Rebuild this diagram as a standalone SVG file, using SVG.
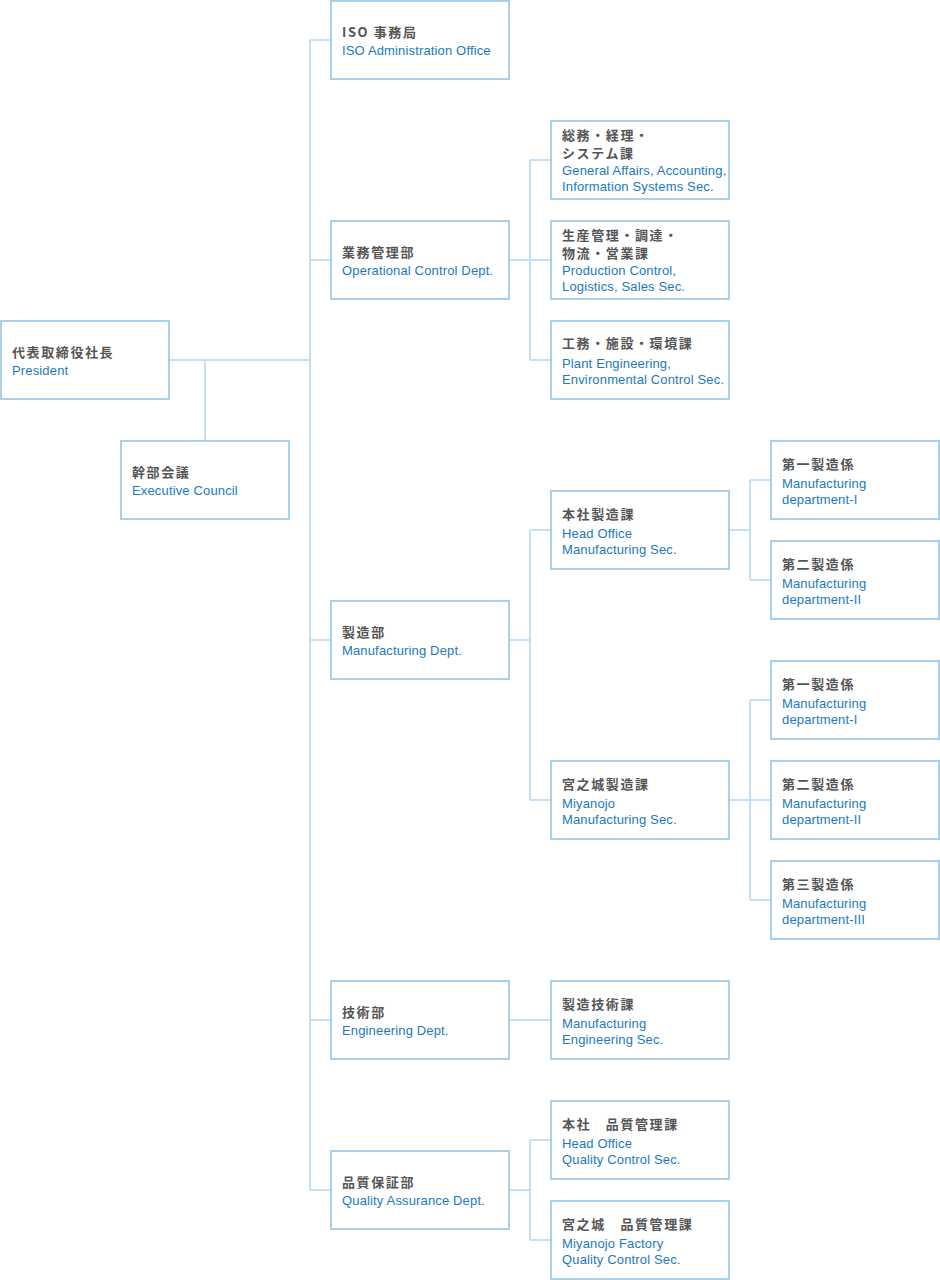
<svg xmlns="http://www.w3.org/2000/svg" width="940" height="1280" viewBox="0 0 940 1280">
<style>
.b{fill:#fff;stroke:#a9d1ee;stroke-width:2}
.j{font-family:"Noto Sans CJK JP","Liberation Sans",sans-serif;font-size:13px;font-weight:bold;fill:#555;letter-spacing:1.6px}
.e{font-family:"Liberation Sans","Noto Sans",sans-serif;font-size:13px;fill:#2279c0;letter-spacing:0.15px}
.c{fill:none;stroke:#c5e0f5;stroke-width:2}
</style>
<rect width="940" height="1280" fill="#fff"/>
<g id="connectors" class="c">
<path d="M310 40V1190"/>
<path d="M310 40H330M310 260H330M310 640H330M310 1020H330M310 1190H330"/>
<path d="M170 360H310M205 360V440"/>
<path d="M510 260H530M530 160V360M530 160H550M530 260H550M530 360H550"/>
<path d="M510 640H530M530 530V800M530 530H550M530 800H550"/>
<path d="M730 530H750M750 480V580M750 480H770M750 580H770"/>
<path d="M730 800H750M750 700V900M750 700H770M750 800H770M750 900H770"/>
<path d="M510 1020H550"/>
<path d="M510 1190H530M530 1140V1240M530 1140H550M530 1240H550"/>
</g>
<g id="president"><rect class="b" x="1" y="321" width="168" height="78"/><text class="j" x="12" y="357">代表取締役社長</text><text class="e" x="12" y="375">President</text></g>
<g id="council"><rect class="b" x="121" y="441" width="168" height="78"/><text class="j" x="132" y="477">幹部会議</text><text class="e" x="132" y="495">Executive Council</text></g>
<g id="iso"><rect class="b" x="331" y="1" width="178" height="78"/><text class="j" x="342" y="37">ISO 事務局</text><text class="e" x="342" y="55">ISO Administration Office</text></g>
<g id="opctrl"><rect class="b" x="331" y="221" width="178" height="78"/><text class="j" x="342" y="257">業務管理部</text><text class="e" x="342" y="275">Operational Control Dept.</text></g>
<g id="ga"><rect class="b" x="551" y="121" width="178" height="78"/><text class="j" x="562" y="140">総務・経理・</text><text class="j" x="562" y="158">システム課</text><text class="e" x="562" y="175">General Affairs, Accounting,</text><text class="e" x="562" y="191">Information Systems Sec.</text></g>
<g id="pc"><rect class="b" x="551" y="221" width="178" height="78"/><text class="j" x="562" y="240">生産管理・調達・</text><text class="j" x="562" y="258">物流・営業課</text><text class="e" x="562" y="275">Production Control,</text><text class="e" x="562" y="291">Logistics, Sales Sec.</text></g>
<g id="pe"><rect class="b" x="551" y="321" width="178" height="78"/><text class="j" x="562" y="348">工務・施設・環境課</text><text class="e" x="562" y="368">Plant Engineering,</text><text class="e" x="562" y="384">Environmental Control Sec.</text></g>
<g id="mfg"><rect class="b" x="331" y="601" width="178" height="78"/><text class="j" x="342" y="637">製造部</text><text class="e" x="342" y="655">Manufacturing Dept.</text></g>
<g id="homfg"><rect class="b" x="551" y="491" width="178" height="78"/><text class="j" x="562" y="519">本社製造課</text><text class="e" x="562" y="538">Head Office</text><text class="e" x="562" y="554">Manufacturing Sec.</text></g>
<g id="ho1"><rect class="b" x="771" y="441" width="168" height="78"/><text class="j" x="782" y="469">第一製造係</text><text class="e" x="782" y="488">Manufacturing</text><text class="e" x="782" y="504">department-I</text></g>
<g id="ho2"><rect class="b" x="771" y="541" width="168" height="78"/><text class="j" x="782" y="569">第二製造係</text><text class="e" x="782" y="588">Manufacturing</text><text class="e" x="782" y="604">department-II</text></g>
<g id="mymfg"><rect class="b" x="551" y="761" width="178" height="78"/><text class="j" x="562" y="789">宮之城製造課</text><text class="e" x="562" y="808">Miyanojo</text><text class="e" x="562" y="824">Manufacturing Sec.</text></g>
<g id="my1"><rect class="b" x="771" y="661" width="168" height="78"/><text class="j" x="782" y="689">第一製造係</text><text class="e" x="782" y="708">Manufacturing</text><text class="e" x="782" y="724">department-I</text></g>
<g id="my2"><rect class="b" x="771" y="761" width="168" height="78"/><text class="j" x="782" y="789">第二製造係</text><text class="e" x="782" y="808">Manufacturing</text><text class="e" x="782" y="824">department-II</text></g>
<g id="my3"><rect class="b" x="771" y="861" width="168" height="78"/><text class="j" x="782" y="889">第三製造係</text><text class="e" x="782" y="908">Manufacturing</text><text class="e" x="782" y="924">department-III</text></g>
<g id="eng"><rect class="b" x="331" y="981" width="178" height="78"/><text class="j" x="342" y="1017">技術部</text><text class="e" x="342" y="1035">Engineering Dept.</text></g>
<g id="mfgeng"><rect class="b" x="551" y="981" width="178" height="78"/><text class="j" x="562" y="1009">製造技術課</text><text class="e" x="562" y="1028">Manufacturing</text><text class="e" x="562" y="1044">Engineering Sec.</text></g>
<g id="qa"><rect class="b" x="331" y="1151" width="178" height="78"/><text class="j" x="342" y="1187">品質保証部</text><text class="e" x="342" y="1205">Quality Assurance Dept.</text></g>
<g id="hoqc"><rect class="b" x="551" y="1101" width="178" height="78"/><text class="j" x="562" y="1129" xml:space="preserve">本社　品質管理課</text><text class="e" x="562" y="1148">Head Office</text><text class="e" x="562" y="1164">Quality Control Sec.</text></g>
<g id="myqc"><rect class="b" x="551" y="1201" width="178" height="78"/><text class="j" x="562" y="1229" xml:space="preserve">宮之城　品質管理課</text><text class="e" x="562" y="1248">Miyanojo Factory</text><text class="e" x="562" y="1264">Quality Control Sec.</text></g>
</svg>
